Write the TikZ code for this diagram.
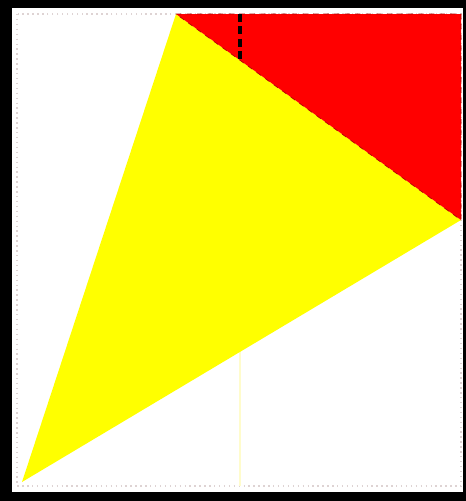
\documentclass[tikz,border=0pt]{standalone}
\usepackage{tikz}
\usetikzlibrary{calc}
\definecolor{wedgeyellow}{RGB}{255,255,0}
\definecolor{cornerred}{RGB}{255,0,0}

\begin{document}
\begin{tikzpicture}[
  x=0.02cm, y=-0.02cm,
  frame/.style={draw=red!15!gray!30, dotted, thick},
  wedge/.style={fill=wedgeyellow, draw=none},
  corner/.style={fill=cornerred, draw=red!70!black, dashed, line width=0.4pt},
  guide/.style={draw=black, dash pattern=on 4.5pt off 2.5pt, line width=1.8pt},
  faint/.style={draw=yellow!20, line width=0.8pt},
]

% Outer black frame and white page
\fill[black] (0,0) rectangle (466,501);
\fill[white] (12,8) rectangle (463,492);

% Dotted page border
\draw[frame] (17,14) rectangle (461,486);

% Corner points
\coordinate (apex) at (176,14);
\coordinate (topright) at (461,14);
\coordinate (right) at (461,220);
\coordinate (foot) at (22,482);
\coordinate (gtop) at (240,14);
\coordinate (gmid) at (240,60);
\coordinate (gbot) at (240,486);

% Faint vertical guide under the yellow wedge
\draw[faint] (gmid) -- (gbot);

% Yellow triangle
\fill[wedge] (apex) -- (right) -- (foot) -- cycle;

% Red corner triangle
\path[corner] (apex) -- (topright) -- (right) -- cycle;

% Dashed guide down to the hypotenuse
\draw[guide] (gtop) -- (gmid);

\end{tikzpicture}
\end{document}
